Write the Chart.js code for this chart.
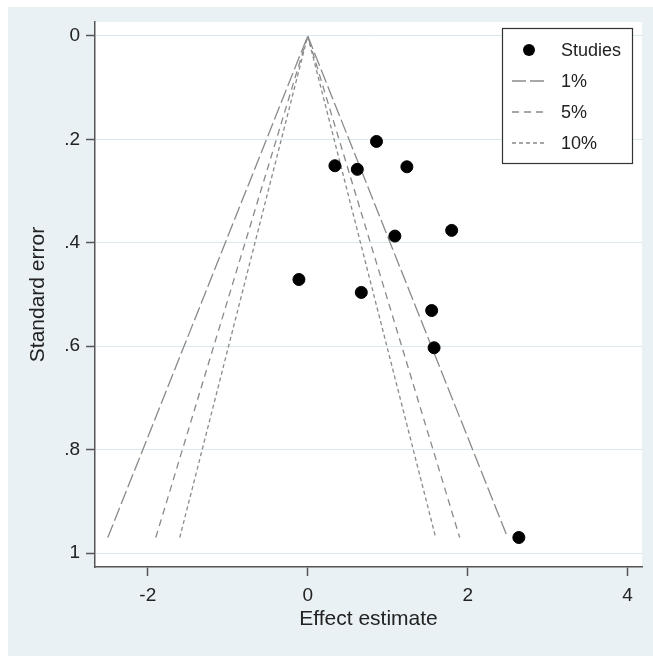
<!DOCTYPE html>
<html>
<head>
<meta charset="utf-8">
<script src="https://cdn.jsdelivr.net/npm/chart.js@4"></script>
<style>
  html, body { margin: 0; padding: 0; background: #fff; }
  #wrap { width: 653px; height: 656px; position: relative; }
</style>
</head>
<body>
<div id="wrap"><canvas id="funnel"></canvas></div>
<script>

// studies (effect estimate, standard error)
const studyEffect = [0.86, 0.34, 0.62, 1.24, 1.09, 1.80, -0.11, 0.67, 1.55, 1.58, 2.64]
const studySE = [0.204, 0.251, 0.258, 0.253, 0.387, 0.376, 0.471, 0.496, 0.531, 0.603, 0.97]

// pseudo confidence limits
const funnelSE = [0.97, 0, 0.97]
const limits1 = [-2.50, 0, 2.50]
const limits5 = [-1.90, 0, 1.90]
const limits10 = [-1.60, 0, 1.60]

const xTicks = [-2, 0, 2, 4]
const yTicks = [0, 0.2, 0.4, 0.6, 0.8, 1]
const yTickLabels = ['0', '.2', '.4', '.6', '.8', '1']

const FONT = '"Liberation Sans", Arial, sans-serif'
const lineGrey = '#8a8a8a'
const axisGrey = '#555'

const toPoints = (xs, ys) => xs.map((x, i) => ({ x, y: ys[i] }))

const funnelLine = (label, xs, dash) => ({
  label,
  data: toPoints(xs, funnelSE),
  showLine: true,
  borderColor: lineGrey,
  borderWidth: 1.3,
  borderDash: dash,
  pointRadius: 0,
  fill: false
})

const background = {
  id: 'background',
  beforeDraw(chart) {
    const { ctx, chartArea: a, width, height } = chart
    ctx.save()
    ctx.fillStyle = '#fff'
    ctx.fillRect(0, 0, width, height)
    ctx.fillStyle = '#e9f1f4'
    ctx.fillRect(8, 7, width - 8, height - 7)
    ctx.fillStyle = '#fff'
    ctx.fillRect(a.left, a.top, a.right - a.left, a.bottom - a.top)
    ctx.restore()
  }
}

// stata style legend box inside the plot region
const boxLegend = {
  id: 'boxLegend',
  afterDraw(chart) {
    const { ctx } = chart
    const x0 = 502, y0 = 28, w = 130, h = 135
    ctx.save()
    ctx.fillStyle = '#fff'
    ctx.fillRect(x0, y0, w, h)
    ctx.strokeStyle = '#333'
    ctx.lineWidth = 1.2
    ctx.strokeRect(x0 + 0.5, y0 + 0.5, w, h)

    const rows = [50, 81, 112, 143]
    ctx.font = '18px ' + FONT
    ctx.fillStyle = '#222'
    ctx.textBaseline = 'middle'
    chart.data.datasets.forEach((ds, i) => {
      const y = rows[i]
      if (i === 0) {
        ctx.beginPath()
        ctx.arc(529, y, 6, 0, Math.PI * 2)
        ctx.fillStyle = '#000'
        ctx.fill()
      } else {
        ctx.beginPath()
        ctx.setLineDash(ds.borderDash)
        ctx.strokeStyle = lineGrey
        ctx.lineWidth = 1.3
        ctx.moveTo(512, y)
        ctx.lineTo(547, y)
        ctx.stroke()
        ctx.setLineDash([])
      }
      ctx.fillStyle = '#222'
      ctx.fillText(ds.label, 561, y + 1)
    })
    ctx.restore()
  }
}

new Chart('funnel', {
  type: 'scatter',
  data: {
    datasets: [
      {
        label: 'Studies',
        data: toPoints(studyEffect, studySE),
        backgroundColor: '#000',
        borderColor: '#000',
        pointRadius: 6
      },
      funnelLine('1%', limits1, [14, 4]),
      funnelLine('5%', limits5, [7, 5]),
      funnelLine('10%', limits10, [4, 3])
    ]
  },
  options: {
    responsive: true,
    maintainAspectRatio: false,
    animation: false,
    layout: { padding: { top: 22, right: 11, left: 0, bottom: 0 } },
    plugins: {
      legend: { display: false },
      tooltip: { enabled: false }
    },
    scales: {
      x: {
        type: 'linear',
        min: -2.66,
        max: 4.18,
        afterBuildTicks: scale => { scale.ticks = xTicks.map(value => ({ value })) },
        afterFit: scale => { scale.height = 89 },
        ticks: {
          color: '#222',
          font: { family: FONT, size: 19 },
          padding: 8,
          maxRotation: 0
        },
        grid: {
          drawOnChartArea: false,
          tickLength: 9,
          tickColor: axisGrey,
          tickWidth: 1.5
        },
        border: { color: axisGrey, width: 1.5 },
        title: {
          display: true,
          text: 'Effect estimate',
          color: '#222',
          font: { family: FONT, size: 21 },
          padding: { top: 0, bottom: 24 }
        }
      },
      y: {
        type: 'linear',
        reverse: true,
        min: -0.027,
        max: 1.027,
        afterBuildTicks: scale => { scale.ticks = yTicks.map(value => ({ value })) },
        afterFit: scale => { scale.width = 95 },
        ticks: {
          color: '#222',
          font: { family: FONT, size: 19 },
          padding: 6,
          callback: (v, i) => yTickLabels[i]
        },
        grid: {
          color: '#dbe9ef',
          lineWidth: 1,
          tickLength: 9,
          tickColor: axisGrey,
          tickWidth: 1.5
        },
        border: { color: axisGrey, width: 1.5 },
        title: {
          display: true,
          text: 'Standard error',
          color: '#222',
          font: { family: FONT, size: 21 },
          padding: { top: 26, bottom: 0 }
        }
      }
    }
  },
  plugins: [background, boxLegend]
})

</script>
</body>
</html>
